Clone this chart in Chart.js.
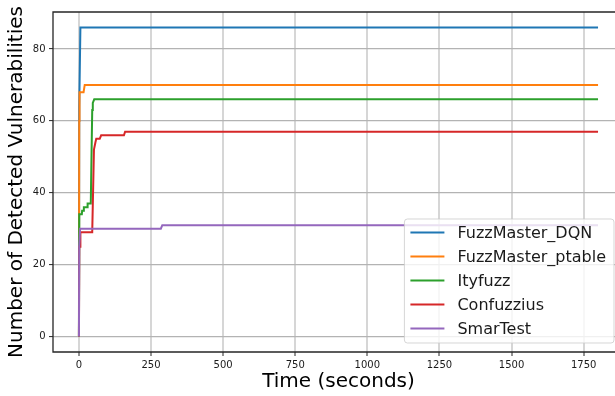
<!DOCTYPE html>
<html>
<head>
<meta charset="utf-8">
<script src="https://cdn.jsdelivr.net/npm/chart.js@4.4.0/dist/chart.umd.min.js"></script>
<style>
html, body { margin: 0; padding: 0; background: #fff; overflow: hidden; }
#wrap { width: 615px; height: 396px; overflow: hidden; }
</style>
</head>
<body>
<div id="wrap"><canvas id="chart" width="640" height="396"></canvas></div>
<script>
// time (s) and detected vulnerabilities
const dqnTime = [0, 1, 5, 1800];
const dqnVals = [0, 64, 86, 86];
const ptableTime = [0, 1, 2, 16, 20, 1800];
const ptableVals = [0, 60, 68, 68, 70, 70];
const ityTime = [0, 1, 10, 11, 16, 17, 29, 30, 41, 46, 48, 53, 1800];
const ityVals = [0, 34, 34, 35, 35, 36, 36, 37, 37, 63, 65, 66, 66];
const confTime = [0, 1, 4, 5, 46, 52, 57, 60, 72, 77, 156, 160, 1800];
const confVals = [0, 25, 25, 29, 29, 52, 54, 55, 55, 56, 56, 57, 57];
const smarTime = [0, 1, 4, 284, 289, 1800];
const smarVals = [0, 25, 30, 30, 31, 31];

const seriesNames = ['FuzzMaster_DQN', 'FuzzMaster_ptable', 'Ityfuzz', 'Confuzzius', 'SmarTest'];
const seriesColors = ['#1f77b4', '#ff7f0e', '#2ca02c', '#d62728', '#9467bd'];
const xTicks = [0, 250, 500, 750, 1000, 1250, 1500, 1750];
const yTicks = [0, 20, 40, 60, 80];

const toPoints = (t, v) => t.map((x, i) => ({ x: x, y: v[i] }));
const seriesData = [
    toPoints(dqnTime, dqnVals),
    toPoints(ptableTime, ptableVals),
    toPoints(ityTime, ityVals),
    toPoints(confTime, confVals),
    toPoints(smarTime, smarVals)
];

Chart.defaults.font.family = '"DejaVu Sans", sans-serif';
Chart.defaults.color = '#1a1a1a';

// matplotlib style frame (top/left/bottom spines, right one is cut off)
const spines = {
    id: 'spines',
    afterDatasetsDraw(chart) {
        const ctx = chart.ctx, a = chart.chartArea;
        ctx.save();
        ctx.strokeStyle = '#262626';
        ctx.lineWidth = 1.3;
        ctx.beginPath();
        ctx.moveTo(a.right + 5, a.top);
        ctx.lineTo(a.left, a.top);
        ctx.lineTo(a.left, a.bottom);
        ctx.lineTo(a.right + 5, a.bottom);
        ctx.stroke();
        ctx.restore();
    }
};

// legend box in the lower right, like matplotlib's
const boxLegend = {
    id: 'boxLegend',
    afterDraw(chart) {
        const ctx = chart.ctx, a = chart.chartArea;
        ctx.save();
        ctx.font = '16px "DejaVu Sans"';
        const textW = Math.max(...seriesNames.map(n => ctx.measureText(n).width));
        const rowH = 24, pad = 6, handle = 34, gap = 13;
        const w = pad + handle + gap + textW + pad + 2;
        const h = rowH * seriesNames.length + 4;
        const right = a.right - 10, bottom = a.bottom - 9;
        const left = right - w, top = bottom - h;
        ctx.beginPath();
        ctx.roundRect(left, top, w, h, 3);
        ctx.fillStyle = 'rgba(255,255,255,0.8)';
        ctx.fill();
        ctx.strokeStyle = 'rgba(204,204,204,0.8)';
        ctx.lineWidth = 1;
        ctx.stroke();
        ctx.textBaseline = 'middle';
        ctx.textAlign = 'left';
        seriesNames.forEach((n, i) => {
            const y = top + 13.5 + i * rowH;
            ctx.strokeStyle = seriesColors[i];
            ctx.lineWidth = 2;
            ctx.beginPath();
            ctx.moveTo(left + pad, y);
            ctx.lineTo(left + pad + handle, y);
            ctx.stroke();
            ctx.fillStyle = '#1a1a1a';
            ctx.fillText(n, left + pad + handle + gap, y + 1);
        });
        ctx.restore();
    }
};

const ctx = document.getElementById('chart').getContext('2d');
const chart = new Chart(ctx, {
    type: 'line',
    data: {
        datasets: seriesNames.map((name, i) => ({
            label: name,
            data: seriesData[i],
            borderColor: seriesColors[i],
            backgroundColor: seriesColors[i],
            borderWidth: 2,
            pointRadius: 0,
            tension: 0,
            fill: false,
            order: seriesNames.length - i
        }))
    },
    options: {
        responsive: false,
        animation: false,
        layout: { padding: { left: 0, top: 12, right: 16, bottom: 0 } },
        plugins: { legend: { display: false }, tooltip: { enabled: false } },
        scales: {
            x: {
                type: 'linear',
                min: -90,
                max: 1890,
                afterBuildTicks: s => { s.ticks = xTicks.map(v => ({ value: v })); },
                afterFit: s => { s.height = 44; },
                ticks: { font: { size: 10 }, padding: 3, maxRotation: 0, callback: v => String(v) },
                grid: { color: '#d6d6d6', lineWidth: 2, tickLength: 4, tickColor: '#262626', tickWidth: 1 },
                border: { display: false },
                title: { display: true, text: 'Time (seconds)', font: { size: 20 }, color: '#000', padding: { top: 0, bottom: 2.6 } }
            },
            y: {
                min: -4.3,
                max: 90.3,
                afterBuildTicks: s => { s.ticks = yTicks.map(v => ({ value: v })); },
                afterFit: s => { s.width = 53; },
                ticks: { font: { size: 10 }, padding: 3.5, callback: v => String(v) },
                grid: { color: '#b3b3b3', lineWidth: 1.2, tickLength: 4, tickColor: '#262626', tickWidth: 1 },
                border: { display: false },
                title: { display: true, text: 'Number of Detected Vulnerabilities', font: { size: 20 }, color: '#000', padding: { top: 4.4, bottom: 0 } }
            }
        }
    },
    plugins: [spines, boxLegend]
});
</script>
</body>
</html>
